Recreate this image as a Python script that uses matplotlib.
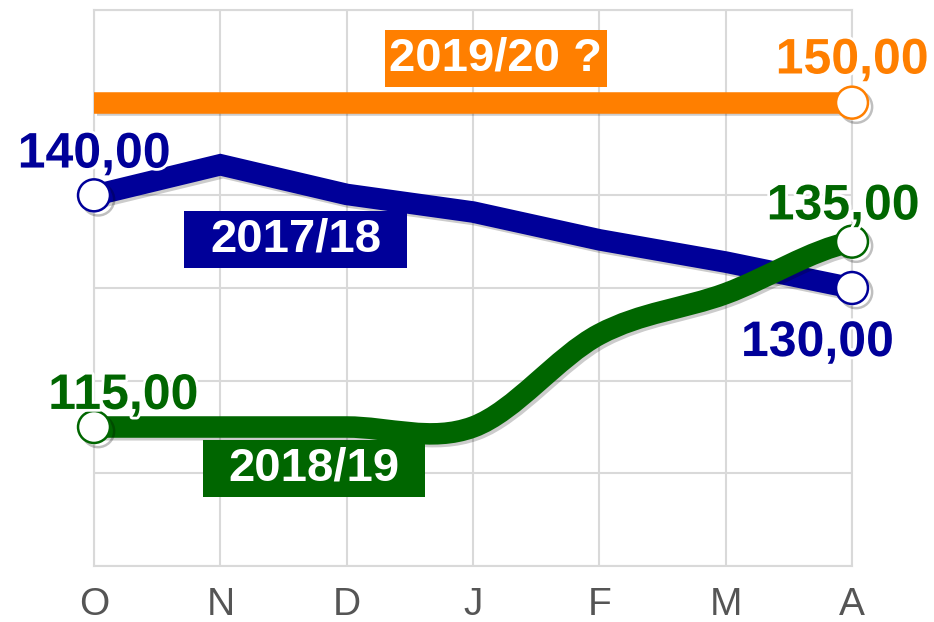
import numpy as np
import matplotlib.pyplot as plt
import matplotlib.patheffects as pe
from matplotlib.path import Path
from matplotlib.patches import PathPatch, Rectangle

plt.rcParams['font.family'] = ['Liberation Sans', 'DejaVu Sans']

# ---------- Daten ----------
months = ["O", "N", "D", "J", "F", "M", "A"]
s1718 = [140.0, 143.3, 140.1, 138.2, 135.2, 132.8, 130.0]
s1819 = [115.0, 115.0, 115.0, 115.0, 125.0, 129.4, 135.0]
s1920 = [150.0, 150.0, 150.0, 150.0, 150.0, 150.0, 150.0]

blue = "#000099"
green = "#006600"
orange = "#ff7f00"
grid_c = "#d9d9d9"

x = np.arange(len(months))

fig = plt.figure(figsize=(9.34, 6.22), dpi=100)
ax = fig.add_axes([94/934, 1-566/622, (852-94)/934, (566-10)/622])
ax.set_xlim(0, 6)
ax.set_ylim(100, 160)
ax.set_xticks(x)
ax.set_xticklabels(months, fontsize=28, color="#555555")
ax.set_yticks(range(100, 161, 10))
ax.tick_params(length=0, labelleft=False, pad=15)
ax.grid(color=grid_c, lw=1.5)
ax.set_axisbelow(True)
for sp in ax.spines.values():
    sp.set_color(grid_c)
    sp.set_linewidth(1.5)

lw = 15.5
shadow = [pe.SimpleLineShadow(offset=(2, -2), shadow_color="k", alpha=0.2), pe.Normal()]

# 2019/20 (orange)
ax.plot(x, s1920, color=orange, lw=lw, solid_capstyle="butt", path_effects=shadow, zorder=3)

# 2017/18 (blau)
ax.plot(x, s1718, color=blue, lw=lw, solid_capstyle="butt", solid_joinstyle="miter",
        path_effects=shadow, zorder=4)

# 2018/19 (gruen) - geglaettete Kurve (Bezier durch die Datenpunkte)
y = np.array(s1819)
m = np.zeros_like(y)
m[1:-1] = (y[2:] - y[:-2]) / 2
m[0] = (y[1] - y[0]) / 2
m[-1] = (y[-1] - y[-2]) / 2
verts = [(x[0], y[0])]
codes = [Path.MOVETO]
for i in range(len(y) - 1):
    verts += [(x[i] + 1/3, y[i] + m[i]/3), (x[i+1] - 1/3, y[i+1] - m[i+1]/3), (x[i+1], y[i+1])]
    codes += [Path.CURVE4] * 3
ax.add_patch(PathPatch(Path(verts, codes), fill=False, edgecolor=green, lw=lw,
                       capstyle="butt", path_effects=shadow, zorder=5))

# Endpunkte
mk = dict(marker="o", ms=23, mfc="white", mew=1.8, ls="none", zorder=6, clip_on=False,
          path_effects=[pe.SimpleLineShadow(offset=(3, -3), shadow_color="k", alpha=0.25), pe.Normal()])
ax.plot([x[-1]], [s1920[-1]], mec=orange, **mk)
ax.plot([x[0], x[-1]], [s1718[0], s1718[-1]], mec=blue, **mk)
ax.plot([x[0], x[-1]], [s1819[0], s1819[-1]], mec=green, **mk)

# Wertelabels
halo = [pe.withStroke(linewidth=4, foreground="white")]
def vlabel(xv, yv, txt, col, dx, dy):
    ax.annotate(txt, (xv, yv), xytext=(dx, dy), textcoords="offset points",
                ha="center", va="baseline", fontsize=36, fontweight="bold",
                color=col, path_effects=halo, zorder=8, annotation_clip=False)

vlabel(x[-1], s1920[-1], "150,00", orange, 0, 21)
vlabel(x[0], s1718[0], "140,00", blue, 0, 20)
vlabel(x[-1], s1819[-1], "135,00", green, -6.5, 16)
vlabel(x[-1], s1718[-1], "130,00", blue, -25, -49)
vlabel(x[0], s1819[0], "115,00", green, 21, 13)

# Serienlabels (Kaesten)
def slabel(xc, yc, txt, col):
    w, h = 222/126.3, 57/9.27
    ax.add_patch(Rectangle((xc - w/2, yc - h/2), w, h, facecolor=col, edgecolor="none", zorder=7))
    ax.text(xc, yc, txt, ha="center", va="center", fontsize=34, fontweight="bold",
            color="white", zorder=8)

slabel(3.18, 154.8, "2019/20 ?", orange)
slabel(1.595, 135.2, "2017/18", blue)
slabel(1.74, 110.5, "2018/19", green)

fig.savefig("out.png", dpi=100)
